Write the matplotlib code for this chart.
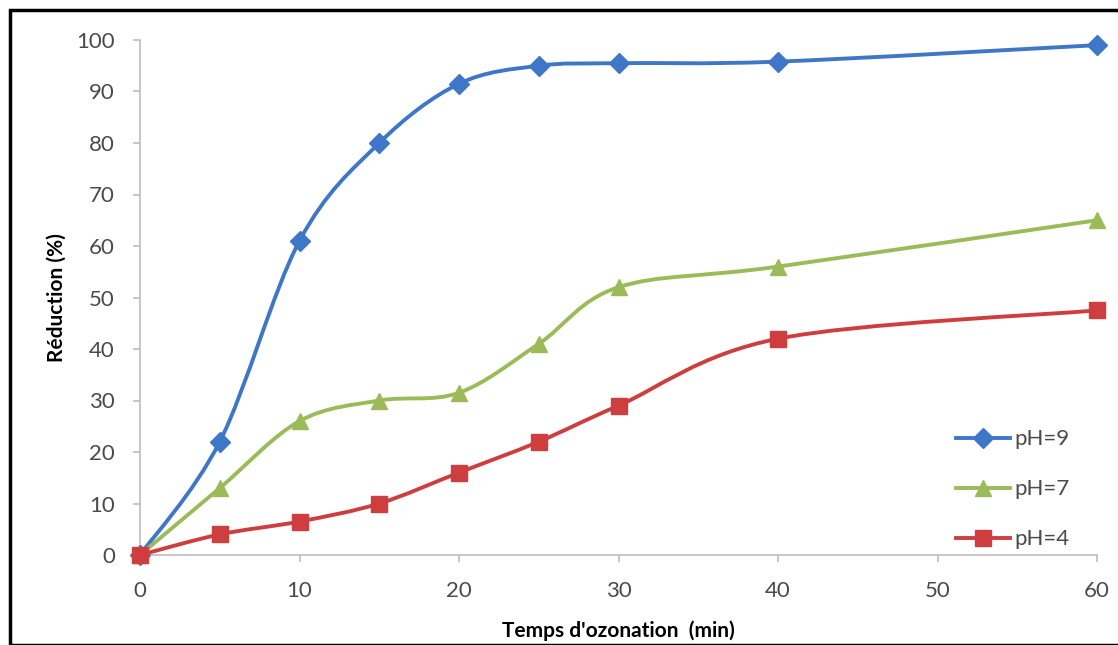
import numpy as np
import matplotlib
matplotlib.use("Agg")
import matplotlib.pyplot as plt
from matplotlib.path import Path
from matplotlib.patches import PathPatch, Rectangle
from matplotlib.lines import Line2D

time_min = [0, 5, 10, 15, 20, 25, 30, 40, 60]
ph9 = [0, 22, 61, 80, 91.5, 95, 95.5, 95.8, 99]
ph7 = [0, 13, 26, 30, 31.5, 41, 52, 56, 65]
ph4 = [0, 4, 6.5, 10, 16, 22, 29, 42, 47.5]
series_labels = ["pH=9", "pH=7", "pH=4"]
x_ticks = [0, 10, 20, 30, 40, 50, 60]
y_ticks = [0, 10, 20, 30, 40, 50, 60, 70, 80, 90, 100]

colors = ["#3F77C8", "#9BBB59", "#CF3E3E"]
markers = ["D", "^", "s"]
msizes = [10, 11, 11]

plt.rcParams['font.family'] = ['Lato', 'DejaVu Sans']

fig = plt.figure(figsize=(11.18, 6.45), dpi=100)
fig.patches.append(Rectangle((10/1118, 0), 1.2, 1 - 10/645, transform=fig.transFigure,
                             fill=False, edgecolor="black", linewidth=2.5, zorder=0))

ax = fig.add_axes([140/1118, 1 - 555/645, (1097-140)/1118, (555-40)/645])


def smooth_path(xs, ys):
    pts = np.column_stack([xs, ys]).astype(float)
    n = len(pts)
    verts = [tuple(pts[0])]
    codes = [Path.MOVETO]
    for i in range(n - 1):
        p0 = pts[i - 1] if i > 0 else pts[i]
        p1 = pts[i]
        p2 = pts[i + 1]
        p3 = pts[i + 2] if i + 2 < n else pts[i + 1]
        c1 = p1 + (p2 - p0) / 6.0
        c2 = p2 - (p3 - p1) / 6.0
        verts += [tuple(c1), tuple(c2), tuple(p2)]
        codes += [Path.CURVE4] * 3
    return Path(verts, codes)


for ys, c, m, ms in zip([ph9, ph7, ph4], colors, markers, msizes):
    ax.add_patch(PathPatch(smooth_path(time_min, ys), fill=False, edgecolor=c,
                           linewidth=2.8, zorder=2, transform=ax.transData))
    ax.plot(time_min, ys, linestyle="none", marker=m, color=c, markersize=ms,
            zorder=3, clip_on=False)

ax.set_xlim(0, 60)
ax.set_ylim(0, 100)
ax.set_xticks(x_ticks)
ax.set_yticks(y_ticks)
ax.spines['top'].set_visible(False)
ax.spines['right'].set_visible(False)
for s in ['left', 'bottom']:
    ax.spines[s].set_color("#BDBDBD")
    ax.spines[s].set_linewidth(1.2)
ax.tick_params(axis='both', colors="#BDBDBD", labelcolor="#4A4A4A", labelsize=16,
               length=5, width=1.2, direction='out')
ax.tick_params(axis='x', pad=14)
ax.tick_params(axis='y', pad=13)

ax.set_xlabel("Temps d'ozonation  (min)", fontsize=15, fontweight='bold', labelpad=14)
ax.set_ylabel("Réduction (%)", fontsize=15, fontweight='bold', labelpad=7)

handles = [Line2D([0], [0], color=c, marker=m, markersize=ms, linewidth=2.8)
           for c, m, ms in zip(colors, markers, msizes)]
leg = ax.legend(handles, series_labels, loc='lower right', bbox_to_anchor=(0.992, -0.028),
                frameon=False, fontsize=16, handlelength=2.4, labelspacing=1.35,
                handletextpad=0.2)
for t in leg.get_texts():
    t.set_color("#4A4A4A")

fig.savefig("out.png", dpi=100)
